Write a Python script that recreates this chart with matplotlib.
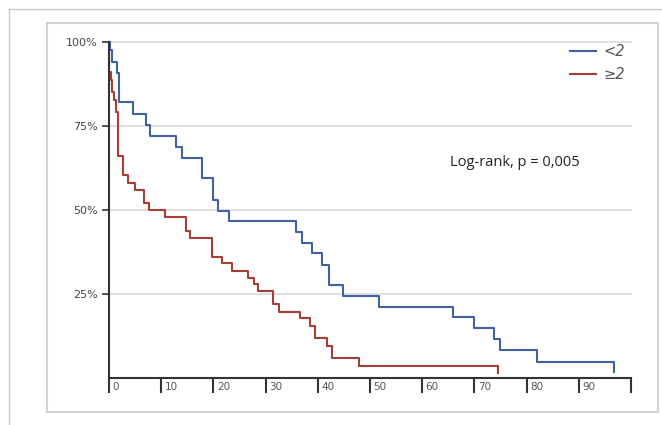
import matplotlib
matplotlib.use("Agg")
from matplotlib import pyplot as plt
from matplotlib.patches import Rectangle
from matplotlib.lines import Line2D

# survival steps (time, % surviving)
t_low = [0, 0.2, 0.5, 1.5, 2.0, 4.6, 7.0, 7.8, 12.8, 13.9, 17.8, 19.9, 20.9,
         22.9, 35.9, 37.0, 38.9, 40.8, 42.1, 44.8, 51.8, 65.9, 70.0, 73.7,
         74.9, 82.0, 96.8, 96.8]
s_low = [100, 97.6, 94.1, 90.7, 82.0, 78.6, 75.2, 72.0, 68.8, 65.6, 59.4, 53.0,
         49.8, 46.6, 43.4, 40.1, 37.1, 33.6, 27.7, 24.4, 21.2, 18.1, 14.8, 11.5,
         8.2, 4.9, 4.9, 1.8]

t_high = [0, 0.05, 0.4, 0.6, 0.9, 1.3, 1.8, 2.6, 3.6, 4.9, 6.8, 7.6, 10.7,
          14.8, 15.6, 19.8, 21.6, 23.5, 26.7, 27.7, 28.6, 31.5, 32.5, 36.6,
          38.5, 39.4, 41.7, 42.7, 47.8, 74.6, 74.6]
s_high = [100, 91.0, 88.7, 85.2, 82.7, 79.3, 66.0, 60.4, 57.9, 56.0, 52.0, 50.0,
          48.0, 43.8, 41.8, 36.0, 34.3, 31.9, 29.9, 27.9, 25.9, 22.0, 19.7, 17.8,
          15.5, 11.8, 9.6, 5.9, 3.7, 3.7, 1.4]

labels = ["<2", "\u22652"]
colors = ["#4060a8", "#a83c36"]
xticks = list(range(0, 101, 10))
yticks = [25, 50, 75, 100]
note = "Log-rank, p = 0,005"

W, H = 662, 425
fig = plt.figure(figsize=(W / 100, H / 100), dpi=100)

# outer frame lines and inner box
fig.add_artist(Line2D([9 / W, 1], [1 - 9 / H, 1 - 9 / H], color="#c8c8c8", lw=1))
fig.add_artist(Line2D([9 / W, 9 / W], [0, 1 - 9 / H], color="#c8c8c8", lw=1))
fig.add_artist(Rectangle((47 / W, 1 - 412 / H), (658 - 47) / W, (412 - 23) / H,
                         fill=False, ec="#d2d2d2", lw=1.5))

ax = fig.add_axes([109 / W, 1 - 378 / H, (631 - 109) / W, (378 - 42) / H])
ax.set_xlim(0, 100)
ax.set_ylim(0, 100)
ax.patch.set_alpha(0)

for y in yticks:
    ax.axhline(y, color="#d9d9d9", lw=1.2, zorder=0, clip_on=False)

ax.step(t_low, s_low, where="post", color=colors[0], lw=1.5, label=labels[0], clip_on=False)
ax.step(t_high, s_high, where="post", color=colors[1], lw=1.5, label=labels[1], clip_on=False)

for side in ["top", "right"]:
    ax.spines[side].set_visible(False)
for side in ["left", "bottom"]:
    ax.spines[side].set_color("#333333")
    ax.spines[side].set_linewidth(1.5)

ax.set_yticks(yticks)
ax.set_yticklabels([str(v) + "%" for v in yticks])
ax.tick_params(axis="y", length=5, width=1.2, color="#333333", labelsize=8,
               labelcolor="#444444", pad=3)

ax.set_xticks(xticks)
ax.set_xticklabels([])
ax.tick_params(axis="x", length=10.5, width=1.5, color="#333333")
for v in xticks[:-1]:
    ax.annotate(str(v), xy=(v, 0), xycoords=("data", "axes fraction"),
                xytext=(2.5, -6.5), textcoords="offset points", ha="left", va="center",
                fontsize=7.5, color="#555555")

leg = ax.legend(loc="upper right", bbox_to_anchor=(1.0, 1.012), frameon=False,
                handlelength=1.8, handletextpad=0.5, labelspacing=0.55, borderaxespad=0.0,
                prop={"style": "italic", "size": 10.5})
for txt in leg.get_texts():
    txt.set_color("#555555")

ax.text(515, H - 162, note, transform=None, fontsize=10.5, family="Open Sans",
        color="#222222", ha="center", va="center")

fig.savefig("out.png", dpi=100)
